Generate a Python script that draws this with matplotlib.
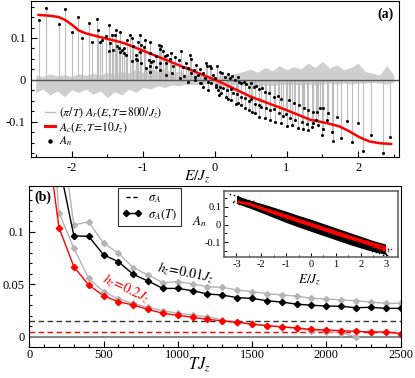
import matplotlib
matplotlib.use('Agg')
import matplotlib.pyplot as plt
from matplotlib.ticker import MultipleLocator, FuncFormatter
from matplotlib.lines import Line2D

plt.rcParams['font.family'] = ['Liberation Serif', 'DejaVu Serif']
plt.rcParams['mathtext.fontset'] = 'stix'
plt.rcParams['font.size'] = 9
plt.rcParams['axes.unicode_minus'] = False
plt.rcParams['xtick.direction'] = 'in'
plt.rcParams['ytick.direction'] = 'in'

# ---- painel (a): pontos A_n
E_n = [-2.46, -2.36, -2.18, -2.09, -2.00, -1.91, -1.86, -1.76, -1.72, -1.65, -1.63, -1.60,
       -1.58, -1.52, -1.48, -1.48, -1.46, -1.44, -1.40, -1.38, -1.34, -1.33, -1.27, -1.32,
       -1.23, -1.19, -1.15, -1.14, -1.27, -1.05, -1.07, -1.05, -1.03, -0.99, -0.98, -1.10,
       -1.09, -0.91, -0.92, -0.89, -0.91, -0.90, -0.86, -0.78, -0.75, -0.77, -0.82, -0.77,
       -0.72, -0.70, -0.67, -0.68, -0.63, -0.61, -0.58, -0.56, -0.50, -0.47, -0.44, -0.40,
       -0.37, -0.35, -0.33, -0.29, -0.27, -0.21, -0.16, -0.12, -0.11, -0.07, -0.05, -0.02,
       -0.06, 0.00, 0.02, 0.05, 0.06, -0.09, -0.14, -0.19, -0.23, -0.28, -0.33,
       -1.42, -1.36, -1.30, -1.24, -1.16, -1.10, -1.03, -0.96, -0.91, -0.82, -0.76, -0.68,
       -0.60, -0.49, -0.43, -0.37, -0.28, -0.21, -0.16, -0.09,
       0.03, 0.07, 0.10, 0.14, 0.18, 0.21, 0.24, 0.28, 0.32, 0.34, 0.37, 0.41, 0.44, 0.47,
       0.51, 0.54, 0.58, 0.61, 0.66, 0.70, 0.76, 0.82, 0.88, 0.93, 1.03, 1.10, 1.17, 1.25,
       1.30, 1.37,
       0.02, 0.07, 0.12, 0.17, 0.22, 0.26, 0.31, 0.37, 0.42, 0.47, 0.51, 0.56, 0.61, 0.65,
       0.71, 0.77, 0.83, 0.89, 0.95, 0.99, 1.05, 1.12, 1.21, 1.28, 1.35,
       0.09, 0.15, 0.18, 0.23, 0.30, 0.32, 0.37, 0.42, 0.47, 0.52, 0.56, 0.61, 0.70, 0.77,
       0.84, 0.93, 1.00, 1.07, 1.16, 1.23, 1.30,
       1.42, 1.47, 1.51, 1.58, 1.71, 1.84, 2.00, 2.18, 2.45, 1.37, 1.44, 1.51, 1.49, 1.57,
       1.63, 1.65, 1.76, 1.91, 2.07, 2.35, 1.41]
A_n = [0.142, 0.171, 0.133, 0.170, 0.114, 0.151, 0.100, 0.135, 0.091, 0.146, 0.118, 0.090,
       0.095, 0.104, 0.130, 0.070, 0.088, 0.106, 0.106, 0.119, 0.075, 0.114, 0.064, 0.067,
       0.095, 0.107, 0.100, 0.080, 0.076, 0.106, 0.090, 0.067, 0.084, 0.079, 0.096, 0.060,
       0.048, 0.064, 0.048, 0.042, 0.090, 0.032, 0.044, 0.084, 0.082, 0.074, 0.056, 0.040,
       0.068, 0.056, 0.060, 0.040, 0.050, 0.064, 0.032, 0.055, 0.048, 0.068, 0.031, 0.040,
       0.028, 0.060, 0.050, 0.024, 0.036, 0.026, 0.016, 0.040, 0.032, 0.034, 0.028, 0.012,
       -0.008, 0.004, -0.016, -0.024, -0.036, -0.004, 0.004, -0.008, 0.012, 0.008, 0.016,
       0.072, 0.080, 0.072, 0.060, 0.044, 0.050, 0.040, 0.028, 0.020, 0.030, 0.024, 0.012,
       0.016, 0.004, 0.010, -0.004, 0.000, -0.008, -0.016, -0.024,
       0.032, 0.020, 0.016, 0.008, 0.014, 0.004, 0.010, 0.000, 0.006, -0.006, -0.008, -0.004,
       -0.010, -0.016, -0.008, -0.018, -0.014, -0.022, -0.020, -0.028, -0.032, -0.040,
       -0.038, -0.046, -0.048, -0.056, -0.060, -0.066, -0.072, -0.076,
       -0.012, -0.016, -0.020, -0.024, -0.022, -0.032, -0.034, -0.040, -0.044, -0.050,
       -0.046, -0.058, -0.060, -0.064, -0.068, -0.072, -0.070, -0.080, -0.086, -0.082,
       -0.092, -0.096, -0.100, -0.106, -0.112,
       -0.032, -0.040, -0.046, -0.048, -0.058, -0.056, -0.060, -0.068, -0.072, -0.076,
       -0.080, -0.088, -0.090, -0.096, -0.100, -0.104, -0.110, -0.108, -0.114, -0.116, -0.120,
       -0.076, -0.068, -0.068, -0.079, -0.088, -0.099, -0.104, -0.132, -0.137, -0.104,
       -0.108, -0.116, -0.132, -0.096, -0.125, -0.146, -0.138, -0.149, -0.169, -0.175, -0.096]

# curva classica A_c
E_c = [-2.46, -2.30, -2.18, -2.09, -1.99, -1.90, -1.80, -1.62, -1.43, -1.27, -0.86, -0.40,
       0.06, 0.50, 1.00, 1.33, 1.56, 1.74, 1.88, 2.02, 2.16, 2.30, 2.46]
A_c = [0.155, 0.153, 0.150, 0.143, 0.131, 0.118, 0.111, 0.103, 0.095, 0.088, 0.060, 0.028,
       -0.004, -0.040, -0.072, -0.095, -0.103, -0.111, -0.123, -0.137, -0.147, -0.151, -0.153]

# ruido de A_r em torno de zero (envelope lido a olho)
E_ruido = [-2.5, -2.4, -2.3, -2.2, -2.1, -2.0, -1.9, -1.8, -1.7, -1.6, -1.5, -1.4, -1.3,
           -1.2, -1.1, -1.0, -0.9, -0.8, -0.7, -0.6, -0.5, -0.4, -0.3, -0.2, -0.1, 0.0,
           0.1, 0.2, 0.3, 0.4, 0.5, 0.6, 0.7, 0.8, 0.9, 1.0, 1.1, 1.2, 1.3, 1.4, 1.5, 1.6,
           1.7, 1.8, 1.9, 2.0, 2.1, 2.2, 2.3, 2.4, 2.5]
ruido_hi = [0.012, 0.008, 0.014, 0.010, 0.012, 0.009, 0.015, 0.011, 0.016, 0.012, 0.018,
            0.014, 0.020, 0.016, 0.026, 0.018, 0.030, 0.020, 0.028, 0.016, 0.022, 0.012,
            0.016, 0.010, 0.012, 0.008, 0.010, 0.012, 0.016, 0.020, 0.026, 0.018, 0.030,
            0.022, 0.034, 0.024, 0.032, 0.026, 0.040, 0.030, 0.044, 0.028, 0.036, 0.024,
            0.030, 0.040, 0.020, 0.016, 0.012, 0.034, 0.010]
ruido_lo = [-0.030, -0.022, -0.036, -0.026, -0.040, -0.024, -0.030, -0.022, -0.034, -0.026,
            -0.042, -0.028, -0.036, -0.022, -0.030, -0.018, -0.022, -0.014, -0.018, -0.012,
            -0.014, -0.010, -0.012, -0.008, -0.010, -0.008, -0.010, -0.012, -0.010, -0.014,
            -0.012, -0.016, -0.012, -0.014, -0.010, -0.012, -0.010, -0.012, -0.010, -0.012,
            -0.010, -0.008, -0.010, -0.008, -0.010, -0.008, -0.008, -0.006, -0.008, -0.010,
            -0.006]

# ---- painel (b)
T = [100, 200, 300, 400, 500, 600, 700, 800, 900, 1000, 1100, 1200, 1300, 1400, 1500, 1600,
     1700, 1800, 1900, 2000, 2100, 2200, 2300, 2400, 2500]
sig_cinza1 = [0.32, 0.21, 0.1064, 0.1095, 0.089, 0.0797, 0.0657, 0.0588, 0.0514, 0.0524,
              0.0502, 0.0476, 0.047, 0.0445, 0.0429, 0.041, 0.0397, 0.0387, 0.0365, 0.036,
              0.035, 0.0343, 0.033, 0.0318, 0.0318]
sig_preto = [0.25, 0.165, 0.096, 0.0956, 0.078, 0.0714, 0.0594, 0.053, 0.046, 0.046, 0.0438,
             0.0407, 0.0397, 0.0372, 0.0365, 0.0343, 0.033, 0.031, 0.030, 0.0292, 0.029,
             0.0276, 0.028, 0.027, 0.027]
T_cinza2 = T[:22]
sig_cinza2 = [0.30, 0.118, 0.0842, 0.0556, 0.0429, 0.036, 0.0318, 0.028, 0.0248, 0.0223,
              0.0207, 0.019, 0.016, 0.0135, 0.012, 0.0105, 0.0093, 0.008, 0.0058, 0.0048,
              0.0039, 0.0]
sig_verm = [0.21, 0.1038, 0.0667, 0.0492, 0.039, 0.0333, 0.0302, 0.026, 0.0223, 0.0204,
            0.0185, 0.0166, 0.015, 0.0137, 0.0121, 0.0105, 0.0095, 0.0083, 0.0070, 0.0064,
            0.0058, 0.0051, 0.0045, 0.0045, 0.003]
sigma_preto = 0.0152
sigma_verm = 0.0048

# ---- inset: envelopes da nuvem de A_n e pontos soltos nas pontas
E_in = [-3.0, -2.5, -2.0, -1.5, -1.0, -0.5, 0.0, 0.5, 1.0, 1.5, 2.0, 2.5, 3.0]
preto_hi = [0.165, 0.140, 0.120, 0.098, 0.076, 0.052, 0.030, 0.006, -0.018, -0.042, -0.066,
            -0.090, -0.110]
preto_lo = [0.120, 0.095, 0.068, 0.040, 0.012, -0.014, -0.038, -0.062, -0.086, -0.110,
            -0.132, -0.152, -0.168]
verm_hi = [0.138, 0.128, 0.105, 0.082, 0.060, 0.036, 0.014, -0.010, -0.032, -0.056, -0.078,
           -0.098, -0.120]
verm_lo = [0.125, 0.110, 0.085, 0.060, 0.036, 0.012, -0.010, -0.034, -0.058, -0.080, -0.100,
           -0.125, -0.150]
E_solto_k = [-3.25, -3.1, -2.95, -2.8, -2.65, -2.5, -2.35, -3.15, -2.9, -2.6,
             2.3, 2.45, 2.6, 2.75, 2.9, 3.05, 2.5, 2.8, 3.1]
A_solto_k = [0.172, 0.166, 0.160, 0.153, 0.147, 0.141, 0.134, 0.128, 0.118, 0.104,
             -0.140, -0.148, -0.156, -0.163, -0.170, -0.174, -0.118, -0.128, -0.140]
E_solto_r = [-3.1, -2.9, -2.7, -2.5, 2.5, 2.7, 2.9, 3.1, 3.2]
A_solto_r = [0.136, 0.131, 0.127, 0.122, -0.126, -0.134, -0.142, -0.150, -0.140]

W, H = 415, 378


def caixa(x0, y0, x1, y1):
    return [x0 / W, 1 - y1 / H, (x1 - x0) / W, (y1 - y0) / H]


def px(x, y):
    return x / W, 1 - y / H


fmt = FuncFormatter(lambda v, p: '%g' % round(v, 4))

fig = plt.figure(figsize=(4.15, 3.78), dpi=100)

# ================= (a)
ax = fig.add_axes(caixa(30.7, 0.7, 399, 157))
ax.fill_between(E_ruido, ruido_lo, ruido_hi, color='#cfcfcf', lw=0)
ax.vlines(E_n, 0, A_n, color='#bdbdbd', lw=0.8)
ax.axhline(0, color='#555555', lw=1.0)
ax.plot(E_c, A_c, color='red', lw=1.8)
ax.plot(E_n, A_n, 'o', color='black', ms=2.2, mec='none')
ax.set_xlim(-2.57, 2.57)
ax.set_ylim(-0.184, 0.189)
ax.xaxis.set_major_locator(MultipleLocator(1))
ax.xaxis.set_minor_locator(MultipleLocator(0.5))
ax.yaxis.set_major_locator(MultipleLocator(0.1))
ax.yaxis.set_minor_locator(MultipleLocator(0.025))
ax.xaxis.set_major_formatter(fmt)
ax.yaxis.set_major_formatter(fmt)
ax.tick_params(which='major', length=4, width=0.8, labelsize=9)
ax.tick_params(which='minor', length=2.5, width=0.8)
for s in ax.spines.values():
    s.set_linewidth(0.8)

hand = [Line2D([], [], color='#bdbdbd', lw=1),
        Line2D([], [], color='red', lw=2.2),
        Line2D([], [], ls='none', marker='o', color='black', ms=2.2)]
labs = [r'$(\pi/T)\ A_r(E,T\!=\!800/J_z)$', r'$A_c(E,T\!=\!10J_z)$', r'$A_n$']
ax.legend(hand, labs, loc='upper left', bbox_to_anchor=(0.026, 0.36), frameon=False,
          handlelength=0.85, handletextpad=0.3, labelspacing=0.0, borderaxespad=0,
          fontsize=8.5)
fig.text(*px(385, 14), '(a)', fontweight='bold', fontsize=10, ha='center', va='center')
fig.text(*px(197, 176), r'$E/J_z$', fontsize=11, ha='center', va='center')

# ================= (b)
bx = fig.add_axes(caixa(29.3, 186, 400.5, 346.7))
bx.axhline(0, color='#888888', lw=1.5)
bx.axhline(sigma_preto, color='#333333', ls='--', lw=1, dashes=(4, 2.5))
bx.axhline(sigma_verm, color='red', ls='--', lw=1, dashes=(4, 2.5))
bx.plot(T, sig_cinza1, color='#b4b4b4', marker='D', ms=3, lw=1)
bx.plot(T_cinza2, sig_cinza2, color='#b4b4b4', marker='D', ms=3, lw=1)
bx.plot(T, sig_preto, color='black', marker='D', ms=3.2, lw=1)
bx.plot(T, sig_verm, color='red', marker='D', ms=3.2, lw=1)
bx.set_xlim(0, 2500)
bx.set_ylim(-0.0095, 0.1435)
bx.xaxis.set_major_locator(MultipleLocator(500))
bx.xaxis.set_minor_locator(MultipleLocator(100))
bx.yaxis.set_major_locator(MultipleLocator(0.05))
bx.yaxis.set_minor_locator(MultipleLocator(0.01))
bx.xaxis.set_major_formatter(fmt)
bx.yaxis.set_major_formatter(fmt)
bx.tick_params(which='major', length=4, width=0.8, labelsize=9)
bx.tick_params(axis='x', pad=1.5)
bx.tick_params(which='minor', length=2.5, width=0.8)
for s in bx.spines.values():
    s.set_linewidth(0.8)

hand_b = [Line2D([], [], color='black', ls='--', lw=1, dashes=(3, 2)),
          Line2D([], [], color='black', marker='D', ms=3.2, lw=1)]
leg = bx.legend(hand_b, [r'$\sigma_A$', r'$\sigma_A(T)$'], loc='upper left',
                bbox_to_anchor=(0.239, 0.985), borderaxespad=0, fancybox=False,
                edgecolor='black', handlelength=1.6, numpoints=2, labelspacing=0.2,
                fontsize=9, borderpad=0.3, handletextpad=0.5)
leg.get_frame().set_linewidth(0.8)

fig.text(*px(186, 272), r'$h_z\!=\!0.01J_z$', fontsize=10, rotation=-11,
         ha='center', va='center')
fig.text(*px(126, 289), r'$h_z\!=\!0.2J_z$', fontsize=10, rotation=-25, color='red',
         ha='center', va='center')
fig.text(*px(43, 197), '(b)', fontweight='bold', fontsize=10, ha='center', va='center')
fig.text(*px(200, 365), r'$TJ_z$', fontsize=12, ha='center', va='center')

# ================= inset
ix = fig.add_axes(caixa(224, 191, 398, 257))
ix.fill_between(E_in, preto_lo, preto_hi, color='black', lw=0)
ix.plot(E_solto_k, A_solto_k, 'o', color='black', ms=1.2, mec='none')
ix.fill_between(E_in, verm_lo, verm_hi, color='red', lw=0)
ix.plot(E_solto_r, A_solto_r, 'o', color='red', ms=1.2, mec='none')
ix.set_xlim(-3.5, 3.5)
ix.set_ylim(-0.183, 0.19)
ix.xaxis.set_major_locator(MultipleLocator(1))
ix.xaxis.set_minor_locator(MultipleLocator(0.5))
ix.yaxis.set_major_locator(MultipleLocator(0.1))
ix.yaxis.set_minor_locator(MultipleLocator(0.05))
ix.xaxis.set_major_formatter(fmt)
ix.yaxis.set_major_formatter(fmt)
ix.tick_params(which='major', length=3, width=0.7, labelsize=7.5, pad=2)
ix.tick_params(which='minor', length=1.8, width=0.7)
for s in ix.spines.values():
    s.set_linewidth(1.2)
    s.set_color('#666666')
fig.text(*px(200, 222), r'$A_n$', fontsize=9.5, ha='center', va='center')
fig.text(*px(310, 280), r'$E/J_z$', fontsize=9.5, ha='center', va='center')

fig.savefig('out.png', dpi=100)
